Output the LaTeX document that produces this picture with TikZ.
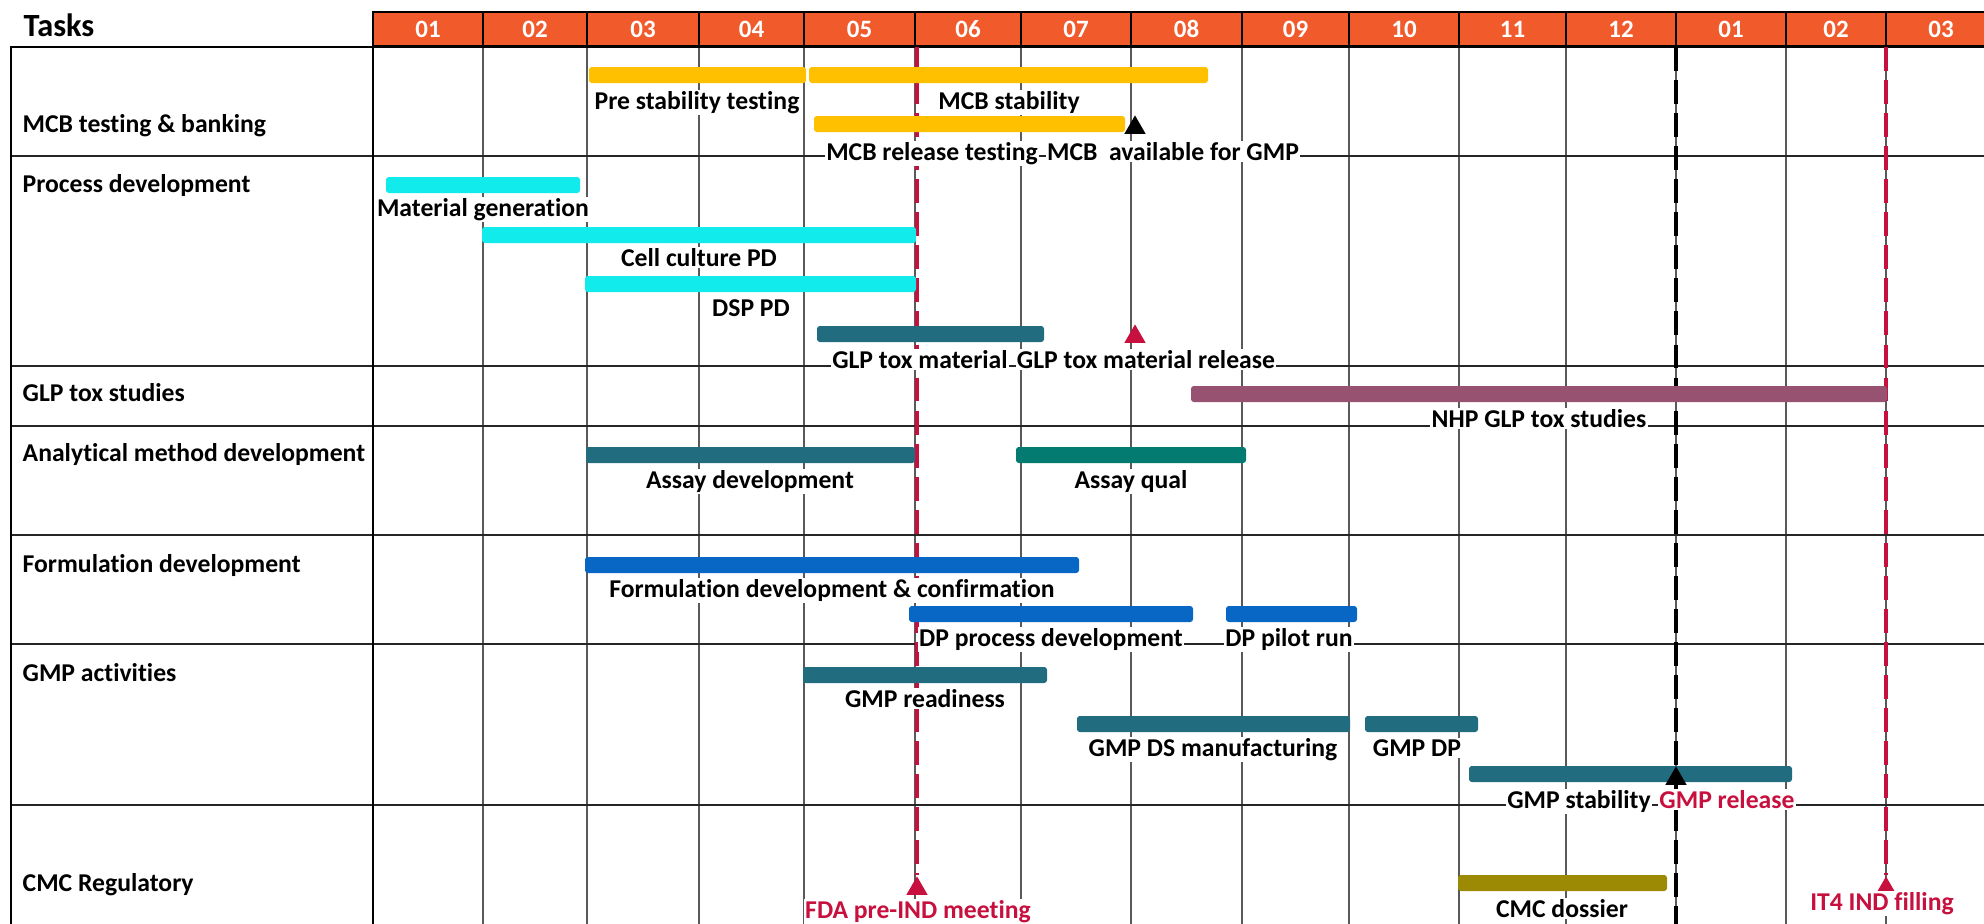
\documentclass[tikz,border=0pt]{standalone}
\usepackage{fontspec}
\setmainfont[Ligatures=NoCommon]{Carlito}
\usetikzlibrary{shapes.geometric}

\definecolor{hdrorange}{HTML}{F15A2B}
\definecolor{mcbyellow}{HTML}{FFC000}
\definecolor{pdcyan}{HTML}{12EBEB}
\definecolor{darkteal}{HTML}{226C80}
\definecolor{toxmauve}{HTML}{975171}
\definecolor{qualgreen}{HTML}{037B71}
\definecolor{formblue}{HTML}{0866C4}
\definecolor{dossolive}{HTML}{9C8A04}
\definecolor{milered}{HTML}{C8103E}

\begin{document}
\begin{tikzpicture}[x=0.01cm, y=-0.01cm,
    font=\bfseries\fontsize{7.3}{8.5}\selectfont,
    colline/.style={black!65, line width=0.4pt},
    rowline/.style={black!85, line width=0.45pt},
    bar/.style={rounded corners=0.8pt},
    lbl/.style={fill=white, inner sep=0.4pt, anchor=mid},
    tasklbl/.style={anchor=base west, inner sep=0pt},
    hdr/.style={text=white, font=\bfseries\fontsize{7.1}{8}\selectfont},
    mile/.style={regular polygon, regular polygon sides=3, minimum size=0.245cm,
                 inner sep=0pt, anchor=north},
    dueline/.style={line width=1.15pt, dash pattern=on 6.8pt off 2.6pt}]
    \useasboundingbox (0,0) rectangle (1984,924);

    % Header with months
    \fill[hdrorange] (373,12) rectangle (1996,46);
    \foreach \xa/\xb/\m in {373/483/01, 483/587/02, 587/699/03, 699/804/04,
        804/915/05, 915/1021/06, 1021/1131/07, 1131/1242/08, 1242/1349/09,
        1349/1459/10, 1459/1566/11, 1566/1676/12, 1676/1786/01, 1786/1886/02,
        1886/1996/03}{
        \draw[black, line width=0.5pt] (\xa,12) rectangle (\xb,46);
        \node[hdr] (mon-\xa) at ({(\xa+\xb)/2},29) {\m};
    }
    \node[tasklbl, font=\bfseries\fontsize{9.2}{10}\selectfont] (tasks) at (23,36) {Tasks};

    % Grid
    \foreach \xc in {483,587,699,804,915,1021,1131,1242,1349,1459,1566,1676,1786,1886}
        \draw[colline] (\xc,47) -- (\xc,924);
    \foreach \yr in {156,366,426,535,644,805}
        \draw[rowline] (11,\yr) -- (1984,\yr);
    \draw[black, line width=0.6pt] (11,924) -- (11,47) -- (1984,47);
    \draw[black, line width=0.5pt] (373,46) -- (373,924);

    % Row titles
    \node[tasklbl] (r-mcb) at (22,133) {MCB testing \& banking};
    \node[tasklbl] (r-pd) at (22,192) {Process development};
    \node[tasklbl] (r-tox) at (22,401) {GLP tox studies};
    \node[tasklbl] (r-amd) at (22,461) {Analytical method development};
    \node[tasklbl] (r-form) at (22,572) {Formulation development};
    \node[tasklbl] (r-gmp) at (22,681) {GMP activities};
    \node[tasklbl] (r-cmc) at (22,891) {CMC Regulatory};

    % Milestone lines
    \coordinate (fdatop) at (917,47);
    \coordinate (reltop) at (1676,47);
    \coordinate (relbot) at (1676,924);
    \coordinate (indtop) at (1886,47);
    \node[mile, fill=milered] (fda) at (917,875) {};
    \node[mile, fill=milered] (ind) at (1886,875) {};
    \draw[dueline, milered] (fdatop) -- (fda.north);
    \draw[dueline, black] (reltop) -- (relbot);
    \draw[dueline, milered] (indtop) -- (ind.north);

    % Bar labels
    \node[lbl] (l-prestab) at (697,101) {Pre stability testing};
    \node[lbl] (l-mcbstab) at (1009,101) {MCB stability};
    \node[lbl] (l-mcbrel) at (932,152) {MCB release testing};
    \node[lbl] (l-mcbgmp) at (1173,152) {MCB\ \ available for GMP};
    \node[lbl] (l-matgen) at (483,208) {Material generation};
    \node[lbl] (l-cell) at (699,258) {Cell culture PD};
    \node[lbl] (l-dsp) at (751,308) {DSP PD};
    \node[lbl] (l-toxmat) at (920,360) {GLP tox material};
    \node[lbl] (l-toxrel) at (1146,360) {GLP tox material release};
    \node[lbl] (l-nhp) at (1539,419) {NHP GLP tox studies};
    \node[lbl] (l-assay) at (750,480) {Assay development};
    \node[lbl] (l-qual) at (1131,480) {Assay qual};
    \node[lbl] (l-form) at (832,589) {Formulation development \& confirmation};
    \node[lbl] (l-dpproc) at (1051,638) {DP process development};
    \node[lbl] (l-dppilot) at (1289,638) {DP pilot run};
    \node[lbl] (l-ready) at (925,699) {GMP readiness};
    \node[lbl] (l-ds) at (1213,748) {GMP DS manufacturing};
    \node[lbl] (l-dp) at (1417,748) {GMP DP};
    \node[lbl] (l-stab) at (1579,800) {GMP stability};
    \node[lbl, text=milered] (l-rel) at (1727,800) {GMP release};
    \node[lbl] (l-doss) at (1562,909) {CMC dossier};
    \node[lbl, text=milered] (l-fda) at (918,910) {FDA pre-IND meeting};
    \node[lbl, text=milered] (l-ind) at (1882,902) {IT4 IND filling};

    % Bars
    \fill[bar, mcbyellow] (589,67) rectangle (806,83);
    \fill[bar, mcbyellow] (809,67) rectangle (1208,83);
    \fill[bar, mcbyellow] (814,116) rectangle (1125,132);
    \fill[bar, pdcyan] (386,177) rectangle (580,193);
    \fill[bar, pdcyan] (482,227) rectangle (916,243);
    \fill[bar, pdcyan] (585,276) rectangle (916,292);
    \fill[bar, darkteal] (817,326) rectangle (1044,342);
    \fill[bar, toxmauve] (1191,386) rectangle (1887,402);
    \fill[bar, darkteal] (586,447) rectangle (915,463);
    \fill[bar, qualgreen] (1016,447) rectangle (1246,463);
    \fill[bar, formblue] (585,557) rectangle (1079,573);
    \fill[bar, formblue] (909,606) rectangle (1193,622);
    \fill[bar, formblue] (1226,606) rectangle (1357,622);
    \fill[bar, darkteal] (803,667) rectangle (1047,683);
    \fill[bar, darkteal] (1077,716) rectangle (1350,732);
    \fill[bar, darkteal] (1365,716) rectangle (1478,732);
    \fill[bar, darkteal] (1469,766) rectangle (1792,782);
    \fill[bar, dossolive] (1458,875) rectangle (1667,891);

    % Milestone marks
    \node[mile, fill=black] (m-mcb) at (1135,114) {};
    \node[mile, fill=milered] (m-tox) at (1135,323) {};
    \node[mile, fill=black] (m-rel) at (1676,765) {};
\end{tikzpicture}
\end{document}
